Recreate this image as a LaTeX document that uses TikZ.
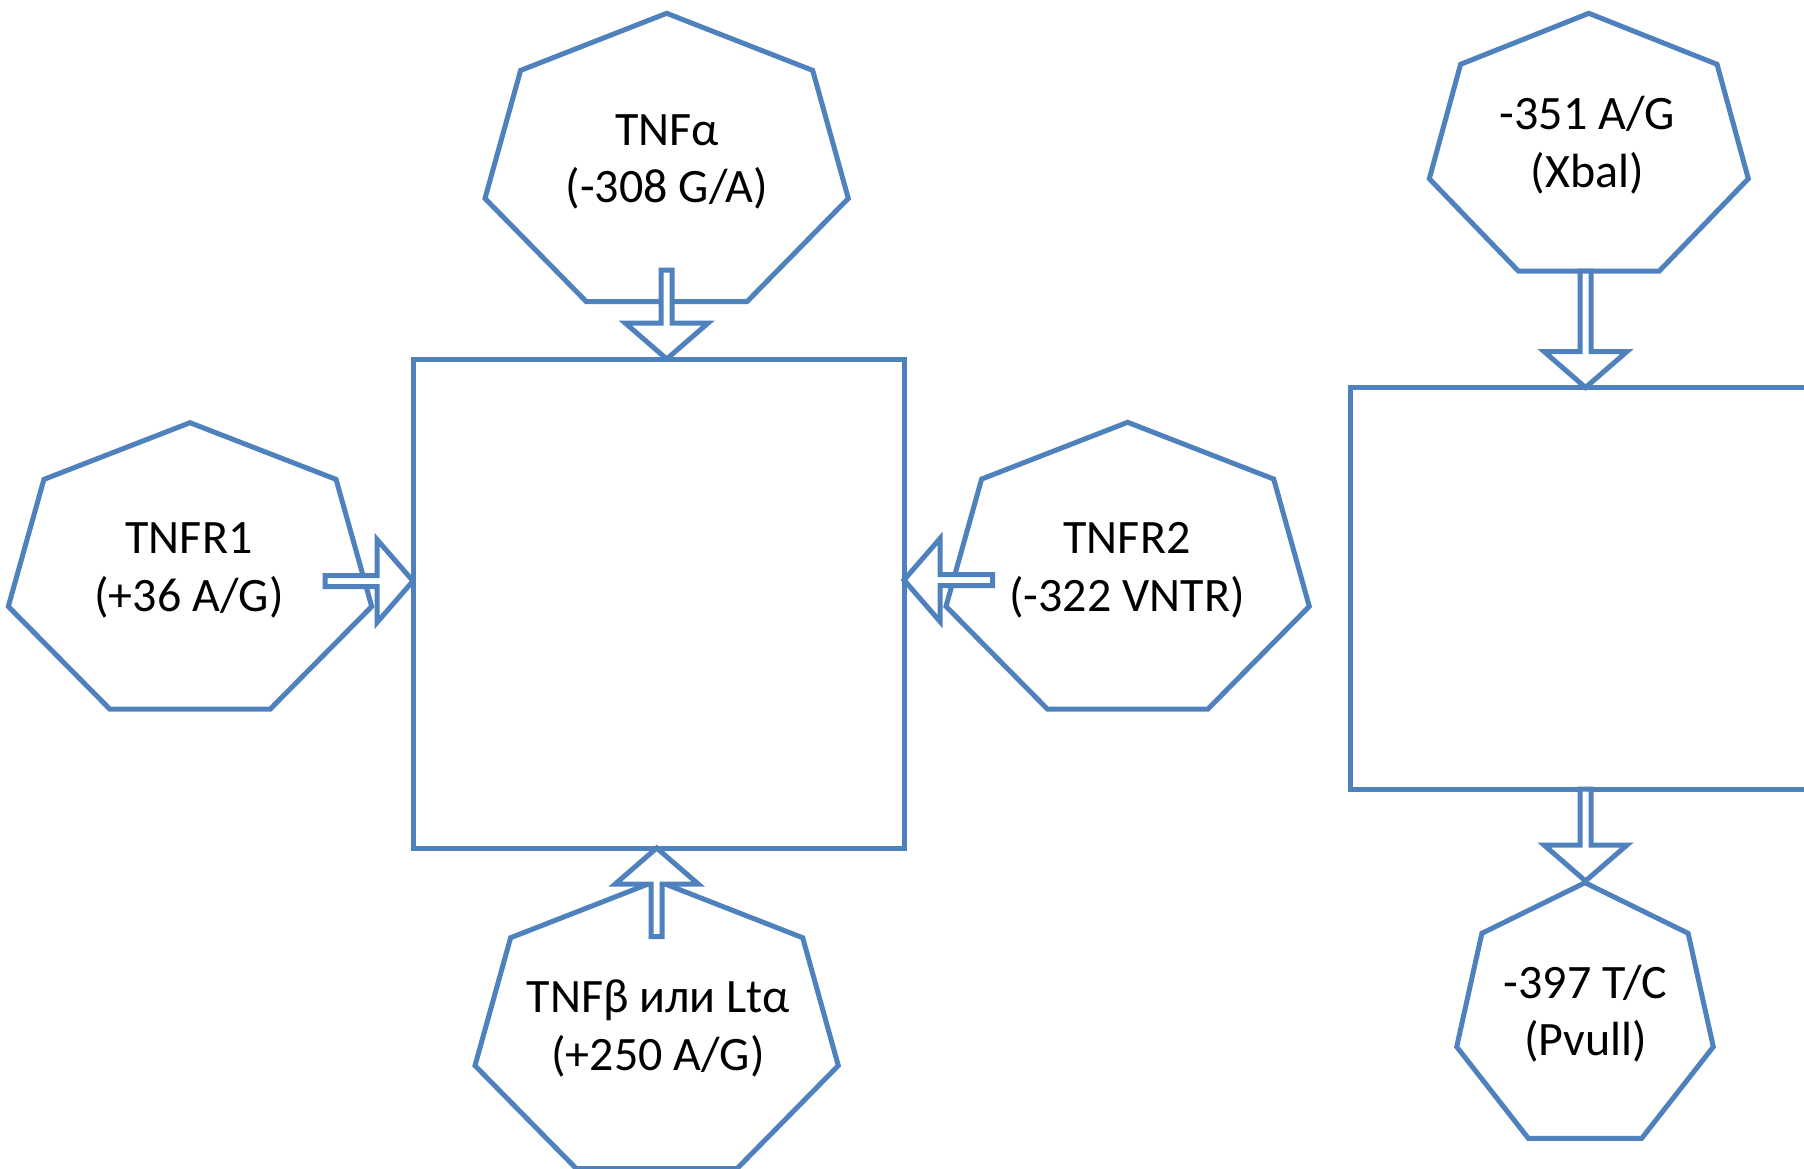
\documentclass[tikz,border=0pt]{standalone}
\usepackage{fontspec}
\setmainfont{Carlito}
\usetikzlibrary{calc}
\definecolor{accent}{HTML}{4F81BD}
\tikzset{
  edgeline/.style={draw=accent, line width=5pt},
  boxnode/.style={edgeline, rectangle, fill=white, inner sep=0pt, outer sep=0pt},
  txt/.style={align=center, inner sep=0pt, text=black,
    font=\fontsize{48}{57.5}\selectfont},
}
% heptagon drawn inside the box with top-left corner (#1,#2), width #3, height #4
\newcommand\heptagon[4]{%
  \draw[edgeline, shift={(#1,#2)}, xscale=#3, yscale=#4]
    (0.5,0) -- (0.902,0.198) -- (1,0.642) -- (0.721,1) -- (0.279,1)
    -- (0,0.642) -- (0.098,0.198) -- cycle;}
% hollow block arrow from coordinate #1 (tail) to coordinate #2 (tip)
\newcommand\hollowarrow[2]{%
  \coordinate (hb) at ($(#2)!36pt!(#1)$);
  \draw[edgeline, fill=white]
    ($(#1)!5.5pt!90:(#2)$) -- ($(hb)!5.5pt!90:(#2)$) -- ($(hb)!41.5pt!90:(#2)$)
    -- (#2) -- ($(hb)!41.5pt!-90:(#2)$) -- ($(hb)!5.5pt!-90:(#2)$)
    -- ($(#1)!5.5pt!-90:(#2)$) -- cycle;}
\begin{document}
\begin{tikzpicture}[x=1pt, y=-1pt]
\useasboundingbox (0,0) rectangle (1804,1169);
\fill[white] (0,0) rectangle (1804,1169);

% polymorphism heptagons
\heptagon{485}{13.3}{363.3}{288.4}
\heptagon{8.3}{422.7}{363.4}{286.3}
\heptagon{946}{422.3}{363.3}{286.7}
\heptagon{475}{880.7}{363.3}{288}
\heptagon{1429.3}{13.3}{319}{257.7}
\heptagon{1456.7}{882.7}{256.6}{255.6}

% central boxes
\node[boxnode, minimum width=491pt, minimum height=489pt] (hub) at (658.5,603.5) {};
\node[boxnode, overlay, minimum width=500pt, minimum height=401.5pt] (hub2) at (1600.7,588.25) {};

% arrow end points
\coordinate (a1) at (666.7,270);
\coordinate (t1) at (a1 |- hub.north);
\coordinate (a2) at (325,581);
\coordinate (t2) at (a2 -| hub.west);
\coordinate (a3) at (992.7,580);
\coordinate (t3) at (a3 -| hub.east);
\coordinate (a4) at (656.7,936.7);
\coordinate (t4) at (a4 |- hub.south);
\coordinate (a5) at (1585.5,271);
\coordinate (t5) at (a5 |- hub2.north);
\coordinate (a6) at (a5 |- hub2.south);
\coordinate (t6) at (1585.5,881);

\hollowarrow{a1}{t1}
\hollowarrow{a2}{t2}
\hollowarrow{a3}{t3}
\hollowarrow{a4}{t4}
\hollowarrow{a5}{t5}
\hollowarrow{a6}{t6}

% labels
\node[txt] (tnfa)  at (667,162.4)   {\strut TNFα\\\strut (-308 G/A)};
\node[txt] (tnfr1) at (189,570.9)   {\strut TNFR1\\\strut (+36 A/G)};
\node[txt] (tnfr2) at (1127,571)    {\strut TNFR2\\\strut (-322 VNTR)};
\node[txt] (tnfb)  at (658,1030)    {\strut TNFβ или Ltα\\\strut (+250 A/G)};
\node[txt] (xba)   at (1587.5,147)  {\strut -351 A/G\\\strut (Xbal)};
\node[txt] (pvu)   at (1585.5,1015.6) {\strut -397 T/C\\\strut (Pvull)};
\end{tikzpicture}
\end{document}
